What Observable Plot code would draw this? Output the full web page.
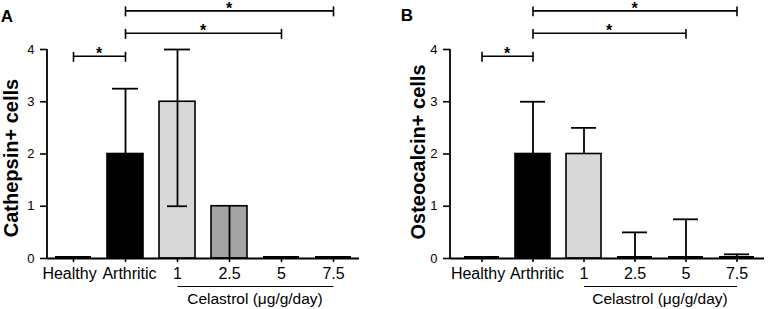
<!DOCTYPE html>
<html><head><meta charset="utf-8">
<script src="https://cdn.jsdelivr.net/npm/d3@7"></script>
<script src="https://cdn.jsdelivr.net/npm/@observablehq/plot@0.6"></script>
<style>
body{margin:0;background:#fff;}
#wrap{display:flex;width:768px;height:309px;overflow:hidden;}
</style>
</head><body><div id="wrap"></div>
<script>
const categories = ["Healthy", "Arthritic", "1", "2.5", "5", "7.5"];
const barFills = ["#ffffff", "#000000", "#d8d8d8", "#a3a3a6", "#ffffff", "#ffffff"];
const cathepsinMean = [0, 2, 3, 1, 0, 0];
const cathepsinUpper = [0, 3.25, 4, 1, 0, 0];
const cathepsinLower = [0, 2, 1, 0, 0, 0];
const osteocalcinMean = [0, 2, 2, 0, 0, 0];
const osteocalcinUpper = [0, 3, 2.5, 0.5, 0.75, 0.08];
const osteocalcinLower = [0, 2, 2, 0, 0, 0];
const yTicks = [0, 1, 2, 3, 4];
const bracketFrom = ["Healthy", "Arthritic", "Arthritic"];
const bracketTo = ["Arthritic", "5", "7.5"];
const bracketLevel = [3.87, 4.31, 4.74];
const bracketText = ["*", "*", "*"];
const groupFrom = "1";
const groupTo = "7.5";
const groupLabel = "Celastrol (μg/g/day)";

const FONT = "'Liberation Sans', Arial, Helvetica, sans-serif";

function panel({letter, yLabel, yLabelSize, mean, upper, lower, marginLeft, insetLeft, marginRight, yLabelX, yLabelY, letterX, letterY}) {
  const rows = categories.map((c, i) => ({cat: c, fill: barFills[i], mean: mean[i], upper: upper[i], lower: lower[i]}));
  const brackets = bracketFrom.map((f, i) => ({from: f, to: bracketTo[i], level: bracketLevel[i], text: bracketText[i]}));
  const ends = brackets.flatMap(b => [{cat: b.from, level: b.level}, {cat: b.to, level: b.level}]);
  const sw = 1.8;
  const svg = Plot.plot({
    width: 384, height: 309,
    marginTop: 49, marginBottom: 51, marginLeft, marginRight,
    style: {fontFamily: FONT, background: "white", overflow: "visible", color: "black"},
    x: {domain: categories, paddingInner: 0.31, paddingOuter: 0.155, insetLeft, label: null, tickSize: 4, tickPadding: 5},
    y: {domain: [0, 4], ticks: yTicks, tickFormat: d => String(d), label: null, tickSize: 7, tickPadding: 6},
    color: {type: "identity"},
    marks: [
      Plot.barY(rows.filter(d => d.mean > 0), {x: "cat", y: "mean", fill: "fill", stroke: "black", strokeWidth: 1.6}),
      Plot.tickY(rows.filter(d => d.mean === 0), {x: "cat", y: "mean", stroke: "black", strokeWidth: 2.2, dy: -1.5}),
      Plot.ruleX(rows.filter(d => d.upper > d.mean), {x: "cat", y1: "mean", y2: "upper", stroke: "black", strokeWidth: sw}),
      Plot.ruleX(rows.filter(d => d.lower < d.mean), {x: "cat", y1: "lower", y2: "mean", stroke: "black", strokeWidth: sw}),
      Plot.tickY(rows.filter(d => d.upper > d.mean), {x: "cat", y: "upper", stroke: "black", strokeWidth: sw, insetLeft: 5, insetRight: 5}),
      Plot.tickY(rows.filter(d => d.lower < d.mean && d.lower > 0), {x: "cat", y: "lower", stroke: "black", strokeWidth: sw, insetLeft: 8, insetRight: 8}),
      Plot.ruleY([0], {stroke: "black", strokeWidth: sw}),
      Plot.link(brackets, {x1: "from", x2: "to", y1: "level", y2: "level", stroke: "black", strokeWidth: 1.6}),
      Plot.ruleX(ends, {x: "cat", y1: d => d.level - 0.115, y2: d => d.level + 0.075, stroke: "black", strokeWidth: 1.6}),
      Plot.link([{from: groupFrom, to: groupTo}], {x1: "from", x2: "to", y1: () => 0, y2: () => 0, dy: 28, stroke: "black", strokeWidth: 1.2})
    ]
  });
  const s = d3.select(svg);
  s.selectAll('[aria-label^="x-axis"]').attr("stroke-width", 1.6);
  s.selectAll('[aria-label^="y-axis"]').attr("stroke-width", 1.6);
  s.selectAll('[aria-label^="x-axis"] text').attr("font-size", 16).style("font-size", "16px").attr("fill", "black")
    .attr("dx", function () { const t = this.textContent; return t === "Healthy" ? -4 : t === "Arthritic" ? 4 : 0; });
  s.selectAll('[aria-label^="y-axis"] text').attr("font-size", 13).style("font-size", "13px").attr("fill", "black");
  const xs = svg.scale("x"), ys = svg.scale("y");
  const cx = c => xs.apply(c) + xs.bandwidth / 2;
  // y axis line
  s.append("line").attr("x1", marginLeft).attr("x2", marginLeft)
    .attr("y1", ys.apply(0)).attr("y2", ys.apply(4))
    .attr("stroke", "black").attr("stroke-width", sw);
  // asterisks
  for (const b of brackets) {
    s.append("text").attr("x", (cx(b.from) + cx(b.to)) / 2).attr("y", ys.apply(b.level) + 3.5)
      .attr("text-anchor", "middle").attr("font-size", 16).attr("font-weight", "bold")
      .attr("font-family", FONT).attr("fill", "black").text(b.text);
  }
  // group label
  s.append("text").attr("x", (cx(groupFrom) + cx(groupTo)) / 2).attr("y", ys.apply(0) + 46)
    .attr("text-anchor", "middle").attr("font-size", 15.5).attr("font-family", FONT).attr("fill", "black").text(groupLabel);
  // y label
  s.append("text").attr("transform", `translate(${yLabelX},${yLabelY}) rotate(-90)`)
    .attr("text-anchor", "middle").attr("font-size", yLabelSize).attr("font-weight", "bold")
    .attr("font-family", FONT).attr("fill", "black").text(yLabel);
  // panel letter
  s.append("text").attr("x", letterX).attr("y", letterY).attr("font-size", 17).attr("font-weight", "bold")
    .attr("font-family", FONT).attr("fill", "black").text(letter);
  return svg;
}

const wrap = document.getElementById("wrap");
wrap.appendChild(panel({letter: "A", yLabel: "Cathepsin+ cells", yLabelSize: 20, mean: cathepsinMean, upper: cathepsinUpper, lower: cathepsinLower,
  marginLeft: 47, insetLeft: 0, marginRight: 25, yLabelX: 18, yLabelY: 158, letterX: 7, letterY: 22}));
wrap.appendChild(panel({letter: "B", yLabel: "Osteocalcin+ cells", yLabelSize: 20, mean: osteocalcinMean, upper: osteocalcinUpper, lower: osteocalcinLower,
  marginLeft: 66, insetLeft: 5, marginRight: 4, yLabelX: 41, yLabelY: 152, letterX: 23, letterY: 21}));
</script>
</body></html>
